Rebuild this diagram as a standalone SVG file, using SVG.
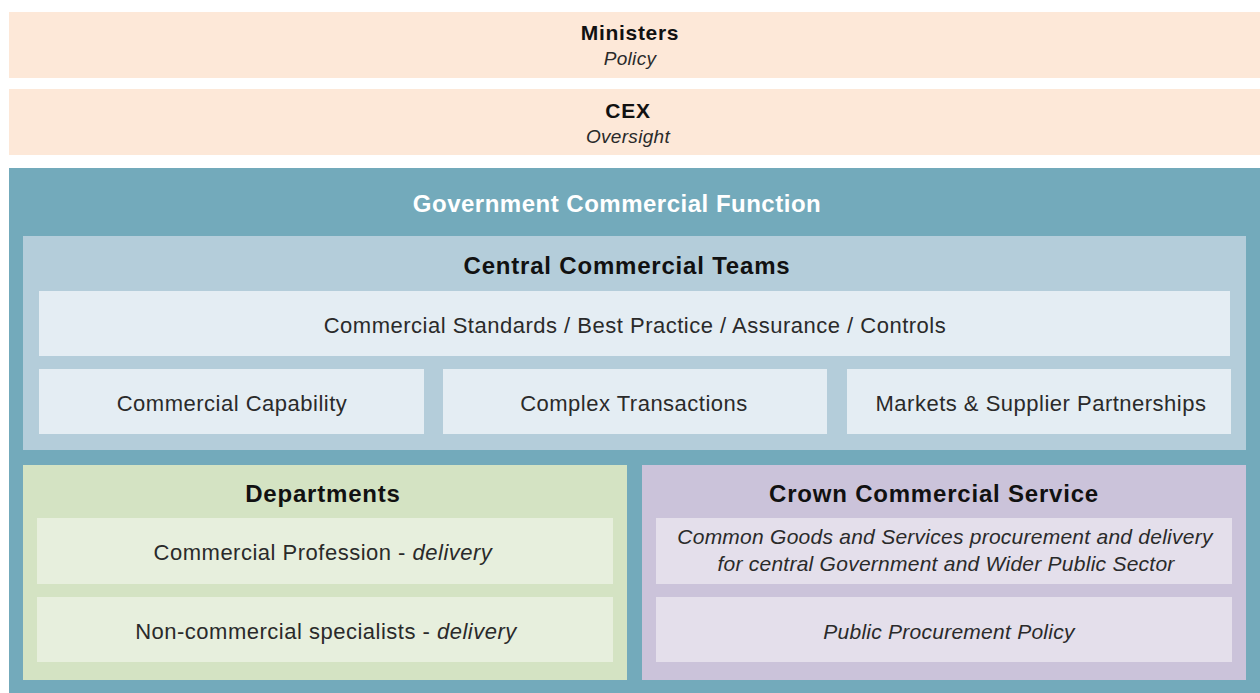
<svg xmlns="http://www.w3.org/2000/svg" width="1260" height="693" viewBox="0 0 1260 693">
<style>
text{font-family:"Liberation Sans",Arial,sans-serif;text-anchor:middle}
.t{font-weight:bold;font-size:21px;fill:#111;letter-spacing:0.7px}
.s{font-weight:bold;font-size:24px;fill:#111;letter-spacing:0.8px}
.tw{font-weight:bold;font-size:24px;fill:#fff;letter-spacing:0.5px}
.r{font-size:22px;fill:#2a2a2a;letter-spacing:0.5px}
.i{font-size:19px;font-style:italic;fill:#2a2a2a;letter-spacing:0.3px}
.ci{font-size:21px;font-style:italic;fill:#2a2a2a;letter-spacing:0.25px}
.peach{fill:#fde8d8}
.teal{fill:#73aabb}
.blue{fill:#b4cdda}
.lblue{fill:#e4edf3}
.green{fill:#d4e3c3}
.lgreen{fill:#e7efdd}
.purple{fill:#cbc3da}
.lpurple{fill:#e4dfeb}
</style>
<rect width="1260" height="693" fill="#fff"/>
<g id="ministers">
<rect class="peach" x="9" y="12" width="1251" height="66"/>
<text class="t" x="630" y="40">Ministers</text>
<text class="i" x="630" y="65">Policy</text>
</g>
<g id="cex">
<rect class="peach" x="9" y="89" width="1251" height="66"/>
<text class="t" x="628" y="118">CEX</text>
<text class="i" x="628" y="143">Oversight</text>
</g>
<g id="gcf">
<rect class="teal" x="9" y="168" width="1251" height="525"/>
<text class="tw" x="617" y="212">Government Commercial Function</text>
</g>
<g id="cct">
<rect class="blue" x="23" y="236" width="1223" height="214"/>
<text class="s" x="627" y="274">Central Commercial Teams</text>
</g>
<g id="standards">
<rect class="lblue" x="39" y="291" width="1191" height="65"/>
<text class="r" x="635" y="333">Commercial Standards / Best Practice / Assurance / Controls</text>
</g>
<g id="capability">
<rect class="lblue" x="39" y="369" width="385" height="65"/>
<text class="r" x="232" y="411">Commercial Capability</text>
</g>
<g id="complex">
<rect class="lblue" x="443" y="369" width="384" height="65"/>
<text class="r" x="634" y="411">Complex Transactions</text>
</g>
<g id="markets">
<rect class="lblue" x="847" y="369" width="384" height="65"/>
<text class="r" x="1041" y="411">Markets &amp; Supplier Partnerships</text>
</g>
<g id="departments">
<rect class="green" x="23" y="465" width="604" height="215"/>
<text class="s" x="323" y="502">Departments</text>
</g>
<g id="profession">
<rect class="lgreen" x="37" y="518" width="576" height="66"/>
<text class="r" x="323" y="560">Commercial Profession - <tspan font-style="italic">delivery</tspan></text>
</g>
<g id="noncommercial">
<rect class="lgreen" x="37" y="597" width="576" height="65"/>
<text class="r" x="326" y="639">Non-commercial specialists - <tspan font-style="italic">delivery</tspan></text>
</g>
<g id="ccs">
<rect class="purple" x="642" y="465" width="604" height="215"/>
<text class="s" x="934" y="502">Crown Commercial Service</text>
</g>
<g id="common">
<rect class="lpurple" x="656" y="518" width="576" height="66"/>
<text class="ci" x="945" y="544">Common Goods and Services procurement and delivery</text>
<text class="ci" x="946" y="571">for central Government and Wider Public Sector</text>
</g>
<g id="ppp">
<rect class="lpurple" x="656" y="597" width="576" height="65"/>
<text class="ci" x="949" y="639">Public Procurement Policy</text>
</g>
<g id="connectors"></g>
</svg>
